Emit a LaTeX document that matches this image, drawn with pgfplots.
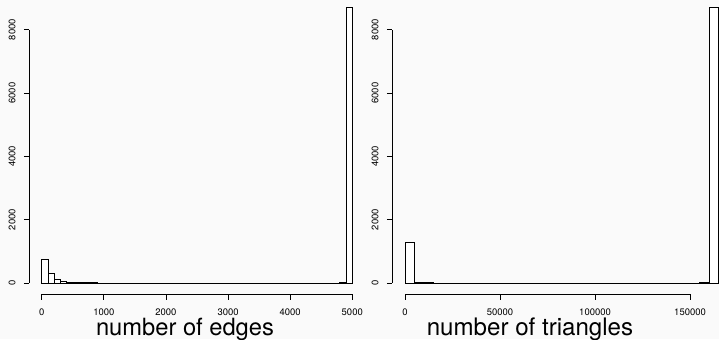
\documentclass[border=0pt]{standalone}
\usepackage{pgfplots}
\pgfplotsset{compat=1.18}
\usepackage{fontspec}
\setmainfont{TeX Gyre Heros}
\definecolor{bg}{RGB}{250,250,250}
\begin{document}
\begin{tikzpicture}[x=1bp,y=1bp]
\fill[bg] (0,0) rectangle (719,339);
\pgfplotsset{
  rstyle/.style={
    scale only axis,
    anchor=south west,
    height=297.5bp,
    ymin=-348, ymax=9048,
    axis lines*=left,
    axis line style={draw=none},
    tick align=outside,
    major tick length=5.5bp,
    tick style={black, line width=0.7bp},
    xtick pos=bottom, ytick pos=left,
    minor tick num=0,
    ytick={0,2000,4000,6000,8000},
    scaled ticks=false,
    /pgf/number format/fixed,
    /pgf/number format/precision=0,
    /pgf/number format/assume math mode=true,
    /pgf/number format/set thousands separator={},
    xticklabel style={font=\fontsize{9.5}{10}\selectfont, anchor=base, inner sep=0pt, yshift=-15.5bp},
    yticklabel style={font=\fontsize{9.5}{10}\selectfont, inner sep=0pt, xshift=-8.5bp, rotate=90, anchor=base},
    clip=false,
  },
  bars/.style={ybar interval, fill=white, draw=black, line width=0.75bp},
}
% Left panel: number of edges
\begin{axis}[rstyle,
  at={(29.28bp,45bp)}, width=335.4bp,
  xmin=-200, xmax=5200,
  xtick={0,1000,2000,3000,4000,5000},
]
\addplot[bars] coordinates {
(0,760) (100,306) (200,117) (300,53) (400,22) (500,12) (600,8) (700,5) (800,4) (900,3)
(1000,2) (1100,2) (1200,2) (1300,2) (1400,2) (1500,1) (1600,1) (1700,1) (1800,1) (1900,1)
(2000,1) (2100,1) (2200,1) (2300,1) (2400,1) (2500,1) (2600,1) (2700,1) (2800,1) (2900,1)
(3000,1) (3100,1) (3200,1) (3300,1) (3400,1) (3500,1) (3600,1) (3700,1) (3800,1) (3900,1)
(4000,1) (4100,1) (4200,1) (4300,1) (4400,1) (4500,1) (4600,2) (4700,2) (4800,6) (4900,8700)
(5000,0)
};
\draw[line width=0.7bp] (axis cs:0,-348) -- (axis cs:5000,-348);
\draw[line width=0.7bp] (axis cs:-200,0) -- (axis cs:-200,8000);
\end{axis}
\node[font=\fontsize{23.8}{26}\selectfont, anchor=base, inner sep=0pt] at (185,4) {number of edges};
% Right panel: number of triangles
\begin{axis}[rstyle,
  at={(392.46bp,45bp)}, width=338.6bp,
  xmin=-6600, xmax=171600,
  xtick={0,50000,100000,150000},
]
\addplot[bars] coordinates {
(0,1270) (5000,6) (10000,4) (15000,3) (20000,3) (25000,2) (30000,2) (35000,2) (40000,2) (45000,1)
(50000,1) (55000,1) (60000,1) (65000,1) (70000,1) (75000,1) (80000,1) (85000,1) (90000,1) (95000,1)
(100000,1) (105000,1) (110000,1) (115000,1) (120000,1) (125000,1) (130000,1) (135000,1) (140000,2) (145000,2)
(150000,3) (155000,10) (160000,8700) (165000,0)
};
\draw[line width=0.7bp] (axis cs:0,-348) -- (axis cs:150000,-348);
\draw[line width=0.7bp] (axis cs:-6600,0) -- (axis cs:-6600,8000);
\end{axis}
\node[font=\fontsize{24.2}{26}\selectfont, anchor=base, inner sep=0pt] at (530,4) {number of triangles};
\pgfresetboundingbox
\useasboundingbox (0,0) rectangle (719,339);
\end{tikzpicture}
\end{document}
